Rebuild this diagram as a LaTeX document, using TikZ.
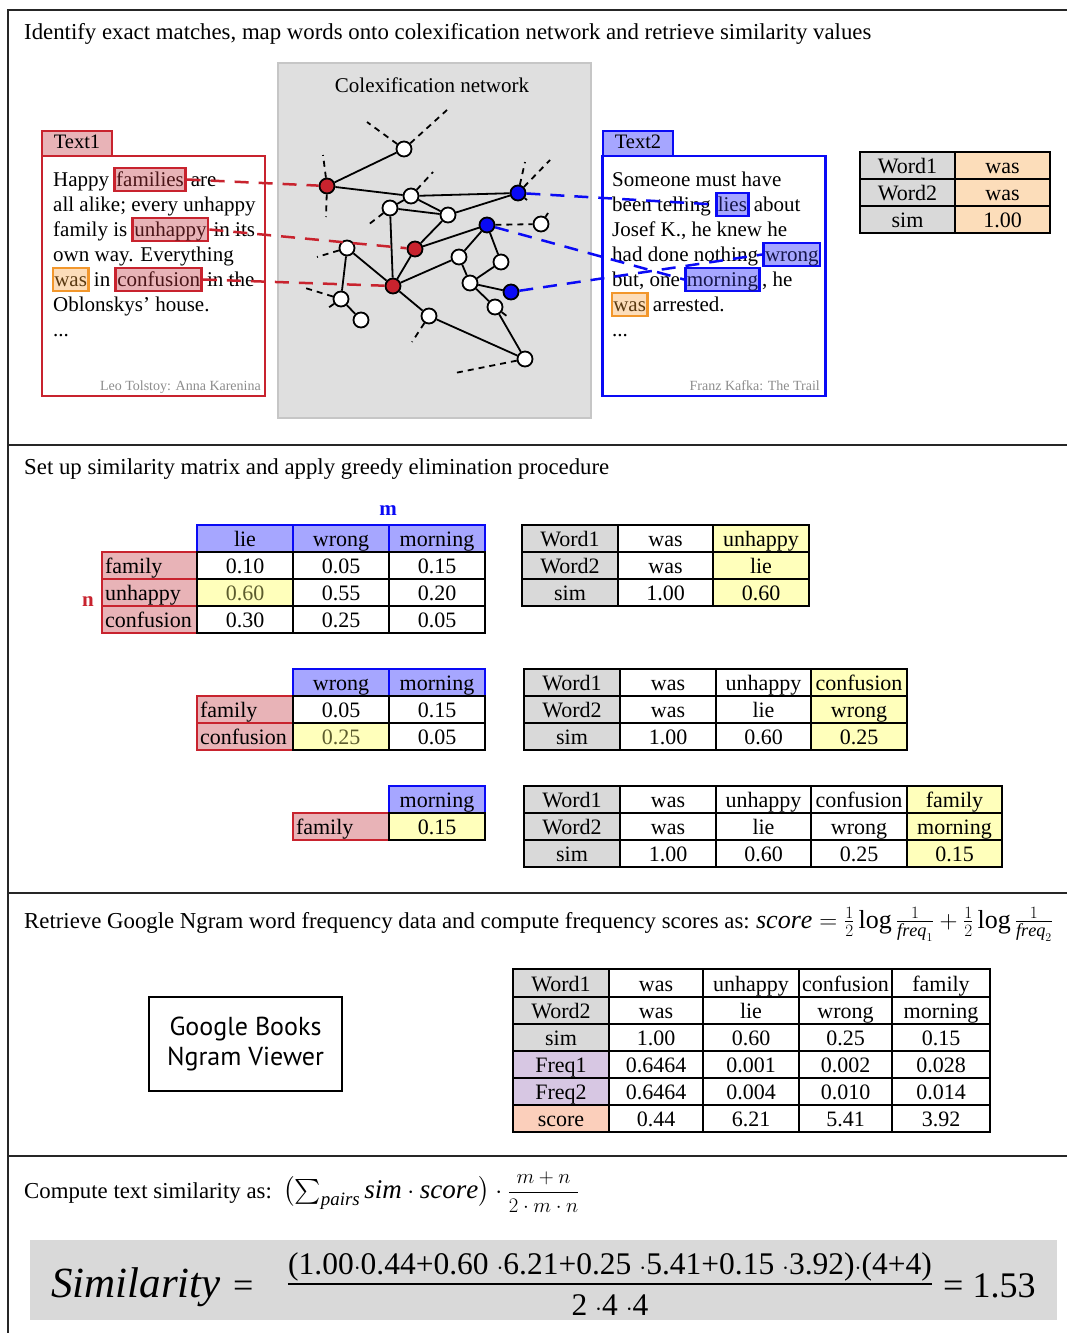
\documentclass[tikz,border=0pt]{standalone}
\usepackage{amsmath}
\usepackage{exscale}
\usepackage{fontspec}
\setmainfont{Liberation Serif}
\newfontfamily\ngramfont{PT Sans}
\usetikzlibrary{calc}

\definecolor{redA}{HTML}{C8232E}
\definecolor{pinkA}{HTML}{E8B3B7}
\definecolor{redT}{HTML}{4A1518}
\definecolor{blueA}{HTML}{0A0AF5}
\definecolor{blueF}{HTML}{A6A6FF}
\definecolor{blueT}{HTML}{15154A}
\definecolor{orangeA}{HTML}{F2972C}
\definecolor{orangeF}{HTML}{FCDDBA}
\definecolor{orangeT}{HTML}{5A3A12}
\definecolor{yellowF}{HTML}{FFFFBB}
\definecolor{oliveT}{HTML}{5C5C2E}
\definecolor{grayF}{HTML}{D9D9D9}
\definecolor{netF}{HTML}{DFDFDF}
\definecolor{netD}{HTML}{C6C6C6}
\definecolor{purpleF}{HTML}{D7C7E3}
\definecolor{salmonF}{HTML}{FBCFBB}
\definecolor{citeC}{HTML}{8C8C8C}

\newcommand\bodyfont{\fontsize{21}{25}\selectfont}
\newcommand\headfont{\fontsize{22.8}{27}\selectfont}
\newcommand\cellfont{\fontsize{22}{26}\selectfont}

% table cell from (x1,y1) to (x2,y2): name, x1, y1, x2, y2, style, text
\newcommand\tcell[7]{%
  \node[cell,#6,minimum width={#4-#2},minimum height={#5-#3}] (#1) at ({(#2+#4)/2},{(#3+#5)/2}) {#7};}
% same, text set flush left
\newcommand\lcell[7]{%
  \pgfmathsetmacro\lcellw{#4-#2-6}%
  \node[cell,#6,minimum width={#4-#2},minimum height={#5-#3}] (#1) at ({(#2+#4)/2},{(#3+#5)/2}) {\makebox[\lcellw pt][l]{#7}};}

\tikzset{
  secline/.style={draw=black!85, line width=2pt},
  txt/.style={inner sep=0pt, anchor=base west, font=\bodyfont},
  headtxt/.style={inner sep=0pt, anchor=base west, font=\headfont},
  hl/.style={inner xsep=1.5pt, inner ysep=1.5pt, text height=16.5pt, text depth=3.5pt,
    line width=2.6pt, anchor=base west, font=\bodyfont},
  hlred/.style={hl, draw=redA, fill=pinkA, text=redT},
  hlblue/.style={hl, draw=blueA, fill=blueF, text=blueT},
  hlorange/.style={hl, draw=orangeA, fill=orangeF, text=orangeT},
  texttab/.style={line width=2.5pt, minimum width=70pt, minimum height=25pt, inner sep=0pt,
    font=\fontsize{20.5}{24}\selectfont, text height=14pt, text depth=4pt},
  textbox/.style={line width=2.5pt, fill=white, minimum width=223pt, minimum height=240pt, inner sep=0pt},
  citation/.style={inner sep=0pt, anchor=base east, font=\fontsize{14}{16}\selectfont, text=citeC},
  netbox/.style={draw=netD, fill=netF, line width=2.5pt, minimum width=313pt, minimum height=355pt, inner sep=0pt},
  wn/.style={circle, draw=black, line width=1.8pt, fill=white, minimum size=15pt, inner sep=0pt},
  rn/.style={wn, fill=redA},
  bn/.style={wn, fill=blueA},
  netedge/.style={line width=1.8pt, black},
  stub/.style={line width=1.8pt, black, dash pattern=on 6pt off 5pt},
  rdash/.style={line width=2.5pt, redA, dash pattern=on 14pt off 10pt},
  bdash/.style={line width=2.5pt, blueA, dash pattern=on 14pt off 10pt},
  cell/.style={inner sep=0pt, line width=1.6pt, draw=black, fill=white,
    text height=17.5pt, text depth=1.5pt, font=\cellfont},
  gc/.style={fill=grayF}, oc/.style={fill=orangeF}, yc/.style={fill=yellowF},
  hc/.style={draw=blueA, fill=blueF}, rc/.style={draw=redA, fill=pinkA},
  pc/.style={fill=purpleF}, sc/.style={fill=salmonF},
}

\begin{document}
\begin{tikzpicture}[x=1pt,y=-1pt]
\useasboundingbox (0,0) rectangle (1067,1333);
\fill[white] (0,0) rectangle (1067,1333);

% section rules
\draw[secline] (8,1333) -- (8,10) -- (1067,10);
\draw[secline] (8,445) -- (1067,445);
\draw[secline] (8,893) -- (1067,893);
\draw[secline] (8,1156) -- (1067,1156);

% ---------------- section 1 ----------------
\node[headtxt] (title1) at (24,39) {Identify exact matches, map words onto colexification network and retrieve similarity values};

\node[netbox] (net) at (434.5,240.5) {};
\node[txt, anchor=base] (nettitle) at (432,92) {Colexification network};

% Text1
\node[texttab, draw=redA, fill=pinkA] (tab1) at (77,143.5) {Text1};
\node[textbox, draw=redA] (box1) at (153.5,276) {};
\node[txt] (a1) at (53,186) {Happy};
\node[hlred] (fam) at ([xshift=4pt]a1.base east) {families};
\node[txt] (a1b) at ([xshift=4pt]fam.base east) {are};
\node[txt] (a2) at (53,211) {all alike; every unhappy};
\node[txt] (a3) at (53,236) {family is};
\node[hlred] (unh) at ([xshift=4pt]a3.base east) {unhappy};
\node[txt] (a3b) at ([xshift=4pt]unh.base east) {in its};
\node[txt] (a4) at (53,261) {own way. Everything};
\node[hlorange] (was1) at (51.5,286) {was};
\node[txt] (a5) at ([xshift=4pt]was1.base east) {in};
\node[hlred] (conf) at ([xshift=4pt]a5.base east) {confusion};
\node[txt] (a5b) at ([xshift=4pt]conf.base east) {in the};
\node[txt] (a6) at (53,311) {Oblonskys’ house.};
\node[txt] (a7) at (53,336) {...};
\node[citation] (cite1) at (261,390) {Leo Tolstoy: Anna Karenina};

% Text2
\node[texttab, draw=blueA, fill=blueF] (tab2) at (638,143.5) {Text2};
\node[textbox, draw=blueA] (box2) at (714,276) {};
\node[txt] (b1) at (612,186) {Someone must have};
\node[txt] (b2) at (612,211) {been telling};
\node[hlblue] (lies) at ([xshift=4pt]b2.base east) {lies};
\node[txt] (b2b) at ([xshift=4pt]lies.base east) {about};
\node[txt] (b3) at (612,236) {Josef K., he knew he};
\node[txt] (b4) at (612,261) {had done nothing};
\node[hlblue] (wrong) at ([xshift=4pt]b4.base east) {wrong};
\node[txt] (b5) at (612,286) {but, one};
\node[hlblue] (morn) at ([xshift=4pt]b5.base east) {morning};
\node[txt] (b5b) at ([xshift=1pt]morn.base east) {, he};
\node[hlorange] (was2) at (610.5,311) {was};
\node[txt] (b6) at ([xshift=4pt]was2.base east) {arrested.};
\node[txt] (b7) at (612,336) {...};
\node[citation] (cite2) at (820,390) {Franz Kafka: The Trail};

% colexification network
\node[rn] (nA) at (327,186) {};
\node[wn] (nB) at (404,149) {};
\node[wn] (nC) at (411,196) {};
\node[wn] (nD) at (390,208) {};
\node[wn] (nE) at (448,215) {};
\node[bn] (nF) at (518,193) {};
\node[bn] (nG) at (487,225) {};
\node[wn] (nH) at (541,224) {};
\node[rn] (nI) at (415,249) {};
\node[wn] (nJ) at (347,248) {};
\node[rn] (nK) at (393,286) {};
\node[wn] (nL) at (459,257) {};
\node[wn] (nM) at (501,262) {};
\node[wn] (nN) at (470,283) {};
\node[bn] (nO) at (511,292) {};
\node[wn] (nP) at (341,299) {};
\node[wn] (nQ) at (361,320) {};
\node[wn] (nR) at (429,316) {};
\node[wn] (nS) at (495,307) {};
\node[wn] (nT) at (525,359) {};

% loose ends of the network
\coordinate (sB1) at (367,122);
\coordinate (sB2) at (447,110);
\coordinate (sA1) at (323,155);
\coordinate (sA2) at (326,217);
\coordinate (sC) at (433,172);
\coordinate (sD) at (368,225);
\coordinate (sF1) at (525,162);
\coordinate (sF2) at (550,160);
\coordinate (sF3) at (527,200);
\coordinate (sH) at (548,213);
\coordinate (sJ) at (317,257);
\coordinate (sP1) at (302,287);
\coordinate (sP2) at (328,308);
\coordinate (sR) at (412,342);
\coordinate (sT) at (455,373);
\coordinate (sS) at (508,317);

\foreach \u/\v in {nB/sB1, nB/sB2, nA/sA1, nA/sA2, nC/sC, nD/sD, nF/sF1, nF/sF2, nF/sF3,
  nH/sH, nJ/sJ, nP/sP1, nP/sP2, nR/sR, nT/sT, nS/sS, nG/nH}
  \draw[stub] (\u) -- (\v);

\foreach \u/\v in {nA/nB, nA/nC, nC/nF, nC/nE, nC/nD, nD/nE, nD/nK, nE/nF, nE/nI, nI/nG,
  nI/nK, nK/nL, nL/nG, nG/nM, nL/nN, nM/nN, nN/nO, nN/nS, nS/nT, nK/nR, nR/nT, nJ/nK,
  nJ/nP, nP/nQ}
  \draw[netedge] (\u) -- (\v);

% word-to-concept mappings
\draw[rdash] (fam.east) -- (nA);
\draw[rdash] (unh.east) -- (nI);
\draw[rdash] (conf.east) -- (nK);
\draw[bdash] (nF) -- (lies.west);
\draw[bdash] (nG) -- (morn.west);
\draw[bdash] (nO) -- (wrong.west);

% exact match table
\tcell{e11}{860}{152}{955}{179}{gc}{Word1}
\tcell{e12}{955}{152}{1050}{179}{oc}{was}
\tcell{e21}{860}{179}{955}{206}{gc}{Word2}
\tcell{e22}{955}{179}{1050}{206}{oc}{was}
\tcell{e31}{860}{206}{955}{233}{gc}{sim}
\tcell{e32}{955}{206}{1050}{233}{oc}{1.00}

% ---------------- section 2 ----------------
\node[headtxt] (title2) at (24,474) {Set up similarity matrix and apply greedy elimination procedure};
\node[font=\fontsize{21}{25}\selectfont\bfseries, text=blueA, inner sep=0pt] (mlab) at (388,511) {m};
\node[font=\fontsize{21}{25}\selectfont\bfseries, text=redA, inner sep=0pt] (nlab) at (88,602) {n};

% matrix 1
\tcell{p1h1}{197}{525}{293}{552}{hc}{lie}
\tcell{p1h2}{293}{525}{389}{552}{hc}{wrong}
\tcell{p1h3}{389}{525}{485}{552}{hc}{morning}
\lcell{p1r1}{102}{552}{197}{579}{rc}{family}
\lcell{p1r2}{102}{579}{197}{606}{rc}{unhappy}
\lcell{p1r3}{102}{606}{197}{633}{rc}{confusion}
\tcell{p1c11}{197}{552}{293}{579}{}{0.10}
\tcell{p1c12}{293}{552}{389}{579}{}{0.05}
\tcell{p1c13}{389}{552}{485}{579}{}{0.15}
\tcell{p1c21}{197}{579}{293}{606}{yc,text=oliveT}{0.60}
\tcell{p1c22}{293}{579}{389}{606}{}{0.55}
\tcell{p1c23}{389}{579}{485}{606}{}{0.20}
\tcell{p1c31}{197}{606}{293}{633}{}{0.30}
\tcell{p1c32}{293}{606}{389}{633}{}{0.25}
\tcell{p1c33}{389}{606}{485}{633}{}{0.05}

% matrix 2
\tcell{p2h1}{293}{669}{389}{696}{hc}{wrong}
\tcell{p2h2}{389}{669}{485}{696}{hc}{morning}
\lcell{p2r1}{197}{696}{293}{723}{rc}{family}
\lcell{p2r2}{197}{723}{293}{750}{rc}{confusion}
\tcell{p2c11}{293}{696}{389}{723}{}{0.05}
\tcell{p2c12}{389}{696}{485}{723}{}{0.15}
\tcell{p2c21}{293}{723}{389}{750}{yc,text=oliveT}{0.25}
\tcell{p2c22}{389}{723}{485}{750}{}{0.05}

% matrix 3
\tcell{p3h1}{389}{786}{485}{813}{hc}{morning}
\lcell{p3r1}{293}{813}{389}{840}{rc}{family}
\tcell{p3c11}{389}{813}{485}{840}{yc}{0.15}

% selected pairs, step 1
\tcell{q1a1}{522}{525}{618}{552}{gc}{Word1}
\tcell{q1a2}{618}{525}{713}{552}{}{was}
\tcell{q1a3}{713}{525}{809}{552}{yc}{unhappy}
\tcell{q1b1}{522}{552}{618}{579}{gc}{Word2}
\tcell{q1b2}{618}{552}{713}{579}{}{was}
\tcell{q1b3}{713}{552}{809}{579}{yc}{lie}
\tcell{q1c1}{522}{579}{618}{606}{gc}{sim}
\tcell{q1c2}{618}{579}{713}{606}{}{1.00}
\tcell{q1c3}{713}{579}{809}{606}{yc}{0.60}

% selected pairs, step 2
\tcell{q2a1}{524}{669}{620}{696}{gc}{Word1}
\tcell{q2a2}{620}{669}{716}{696}{}{was}
\tcell{q2a3}{716}{669}{811}{696}{}{unhappy}
\tcell{q2a4}{811}{669}{907}{696}{yc}{confusion}
\tcell{q2b1}{524}{696}{620}{723}{gc}{Word2}
\tcell{q2b2}{620}{696}{716}{723}{}{was}
\tcell{q2b3}{716}{696}{811}{723}{}{lie}
\tcell{q2b4}{811}{696}{907}{723}{yc}{wrong}
\tcell{q2c1}{524}{723}{620}{750}{gc}{sim}
\tcell{q2c2}{620}{723}{716}{750}{}{1.00}
\tcell{q2c3}{716}{723}{811}{750}{}{0.60}
\tcell{q2c4}{811}{723}{907}{750}{yc}{0.25}

% selected pairs, step 3
\tcell{q3a1}{524}{786}{620}{813}{gc}{Word1}
\tcell{q3a2}{620}{786}{716}{813}{}{was}
\tcell{q3a3}{716}{786}{811}{813}{}{unhappy}
\tcell{q3a4}{811}{786}{907}{813}{}{confusion}
\tcell{q3a5}{907}{786}{1002}{813}{yc}{family}
\tcell{q3b1}{524}{813}{620}{840}{gc}{Word2}
\tcell{q3b2}{620}{813}{716}{840}{}{was}
\tcell{q3b3}{716}{813}{811}{840}{}{lie}
\tcell{q3b4}{811}{813}{907}{840}{}{wrong}
\tcell{q3b5}{907}{813}{1002}{840}{yc}{morning}
\tcell{q3c1}{524}{840}{620}{867}{gc}{sim}
\tcell{q3c2}{620}{840}{716}{867}{}{1.00}
\tcell{q3c3}{716}{840}{811}{867}{}{0.60}
\tcell{q3c4}{811}{840}{907}{867}{}{0.25}
\tcell{q3c5}{907}{840}{1002}{867}{yc}{0.15}

% ---------------- section 3 ----------------
\node[headtxt] (title3) at (24,928) {Retrieve Google Ngram word frequency data and compute frequency scores as:};
\node[headtxt, font=\fontsize{26}{30}\selectfont] (scoref) at ([xshift=6pt]title3.base east)
  {$\mathit{score}=\frac{1}{2}\log\frac{1}{\mathit{freq}_1}+\frac{1}{2}\log\frac{1}{\mathit{freq}_2}$};

\node[draw=black, line width=2.5pt, minimum width=193pt, minimum height=94pt, align=center,
  font=\ngramfont\fontsize{26}{30}\selectfont] (ngram) at (245.5,1044) {Google Books\\Ngram Viewer};

\tcell{f11}{513}{969}{609}{997}{gc}{Word1}
\tcell{f12}{609}{969}{703}{997}{}{was}
\tcell{f13}{703}{969}{799}{997}{}{unhappy}
\tcell{f14}{799}{969}{892}{997}{}{confusion}
\tcell{f15}{892}{969}{990}{997}{}{family}
\tcell{f21}{513}{997}{609}{1024}{gc}{Word2}
\tcell{f22}{609}{997}{703}{1024}{}{was}
\tcell{f23}{703}{997}{799}{1024}{}{lie}
\tcell{f24}{799}{997}{892}{1024}{}{wrong}
\tcell{f25}{892}{997}{990}{1024}{}{morning}
\tcell{f31}{513}{1024}{609}{1051}{gc}{sim}
\tcell{f32}{609}{1024}{703}{1051}{}{1.00}
\tcell{f33}{703}{1024}{799}{1051}{}{0.60}
\tcell{f34}{799}{1024}{892}{1051}{}{0.25}
\tcell{f35}{892}{1024}{990}{1051}{}{0.15}
\tcell{f41}{513}{1051}{609}{1078}{pc}{Freq1}
\tcell{f42}{609}{1051}{703}{1078}{}{0.6464}
\tcell{f43}{703}{1051}{799}{1078}{}{0.001}
\tcell{f44}{799}{1051}{892}{1078}{}{0.002}
\tcell{f45}{892}{1051}{990}{1078}{}{0.028}
\tcell{f51}{513}{1078}{609}{1105}{pc}{Freq2}
\tcell{f52}{609}{1078}{703}{1105}{}{0.6464}
\tcell{f53}{703}{1078}{799}{1105}{}{0.004}
\tcell{f54}{799}{1078}{892}{1105}{}{0.010}
\tcell{f55}{892}{1078}{990}{1105}{}{0.014}
\tcell{f61}{513}{1105}{609}{1132}{sc}{score}
\tcell{f62}{609}{1105}{703}{1132}{}{0.44}
\tcell{f63}{703}{1105}{799}{1132}{}{6.21}
\tcell{f64}{799}{1105}{892}{1132}{}{5.41}
\tcell{f65}{892}{1105}{990}{1132}{}{3.92}

% ---------------- section 4 ----------------
\node[headtxt] (title4) at (24,1198) {Compute text similarity as:};
\node[headtxt, font=\fontsize{27}{32}\selectfont] (simf) at (283,1198)
  {$\bigl(\sum_{\mathit{pairs}}\mathit{sim}\cdot\mathit{score}\bigr)\cdot
   \text{\fontsize{20}{24}\selectfont$\displaystyle\frac{m+n}{2\cdot m\cdot n}$}$};

\node[fill=grayF, minimum width=1027pt, minimum height=80pt, inner sep=0pt] (resbox) at (543.5,1280) {};
\node[inner sep=0pt, anchor=base west, font=\fontsize{43}{48}\selectfont\itshape] (reslab) at (51,1297) {Similarity};
\node[inner sep=0pt, anchor=base west, font=\fontsize{36}{42}\selectfont] (reseq) at ([xshift=12pt]reslab.base east) {=};
\node[inner sep=0pt, anchor=base, font=\fontsize{31.5}{36}\selectfont] (resnum) at (610,1274)
  {(1.00$\cdot$0.44+0.60 $\cdot$6.21+0.25 $\cdot$5.41+0.15 $\cdot$3.92)$\cdot$(4+4)};
\node[inner sep=0pt, anchor=base, font=\fontsize{31.5}{36}\selectfont] (resden) at (610,1315) {2 $\cdot$4 $\cdot$4};
\draw[line width=1.8pt] (resnum.south west |- 0,1284) -- (resnum.south east |- 0,1284);
\node[inner sep=0pt, anchor=base west, font=\fontsize{36}{42}\selectfont] (resval) at (943,1297) {= 1.53};
\end{tikzpicture}
\end{document}
